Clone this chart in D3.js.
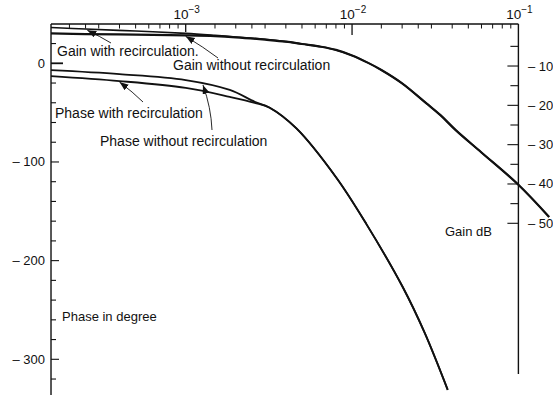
<!DOCTYPE html>
<html><head><meta charset="utf-8">
<script src="https://cdn.jsdelivr.net/npm/d3@7"></script>
<style>
html,body{margin:0;padding:0;background:#fff;overflow:hidden}
svg{display:block;font-family:"Liberation Sans",Arial,Helvetica,sans-serif}
</style></head><body>
<svg id="chart" width="553" height="395"></svg>
<script>
// Frequency response of the loop: gain (dB) and phase (degree),
// with and without recirculation.
const gainFreq    = [1.55e-4, 2.5e-4, 5e-4, 1e-3, 1.5e-3, 2e-3, 3e-3, 4e-3, 5e-3, 6.5e-3, 8e-3, 1e-2, 1.25e-2, 1.5e-2, 2e-2, 2.8e-2, 3.4e-2, 4.2e-2, 6e-2, 0.1, 0.153];
const gainWith    = [-0.2, -0.6, -1.1, -1.7, -2.2, -2.6, -3.2, -3.8, -4.4, -5.1, -5.9, -7.3, -9.2, -11, -14.4, -19.5, -22.5, -26.3, -32, -40.2, -48.4];
const gainWithout = [-1.7, -1.9, -2.0, -2.2, -2.4, -2.7, -3.3, -3.8, -4.4, -5.1, -5.9, -7.3, -9.2, -11, -14.4, -19.5, -22.5, -26.3, -32, -40.2, -48.4];

const phaseFreq    = [1.55e-4, 4e-4, 1e-3, 1.84e-3, 2.6e-3, 3.2e-3, 4.63e-3, 8.05e-3, 1.22e-2, 2.02e-2, 2.73e-2, 3.76e-2];
const phaseWithout = [-7, -11, -17, -27, -39, -45, -66, -116, -163, -227, -273, -331];
const phaseWith    = [-13, -18, -25, -34, -40, -45, -66, -116, -163, -227, -273, -331];

// axis ticks and labels
const decadeTicks   = [1e-3, 1e-2, 1e-1];
const decadeExp     = ["\u22123", "\u22122", "\u22121"];
const minorMantissa = [1.5, 2, 2.5, 3, 4, 5, 6, 7, 8, 9];
const phaseLabels   = [0, -100, -200, -300];
const gainLabels    = [-10, -20, -30, -40, -50];

const svg = d3.select("#chart");
const W = 553, H = 395;

const x = d3.scaleLog().domain([1e-3, 1e-1]).range([185.7, 518.4]);
const yPhase = d3.scaleLinear().domain([0, -300]).range([63.3, 359.3]);
const yGain  = d3.scaleLinear().domain([0, -50]).range([26.7, 223.3]);

const fMin = 1.55e-4, fMax = 1e-1;
const xL = x(fMin), xR = x(fMax), yTop = 24;
const ink = "#111";

// ---- top frequency axis (ticks point down into the plot)
const minorVals = [];
[1e-4, 1e-3, 1e-2].forEach(d => minorMantissa.forEach(m => {
  const v = d * m; if (v > fMin && v < fMax) minorVals.push(v);
}));
svg.append("line").attr("x1", xL).attr("x2", xR).attr("y1", yTop).attr("y2", yTop)
  .attr("stroke", ink).attr("stroke-width", 1.4);
svg.append("g").selectAll("line").data(minorVals).join("line")
  .attr("x1", d => x(d)).attr("x2", d => x(d)).attr("y1", yTop).attr("y2", yTop + 4.5)
  .attr("stroke", ink).attr("stroke-width", 1);
svg.append("g").selectAll("line").data(decadeTicks.slice(0, 2)).join("line")
  .attr("x1", d => x(d)).attr("x2", d => x(d)).attr("y1", yTop).attr("y2", (d, i) => yTop + (i === 0 ? 8 : 11))
  .attr("stroke", ink).attr("stroke-width", 1.3);
const decLab = svg.append("g").selectAll("text").data(decadeTicks).join("text")
  .attr("x", d => x(d) + 1).attr("y", 19)
  .attr("text-anchor", "middle").attr("font-size", 13.5).attr("fill", ink);
decLab.append("tspan").text("10");
decLab.append("tspan").attr("dy", -6.5).attr("font-size", 10).text((d, i) => decadeExp[i]);

// ---- left phase axis
const phaseTicks = d3.range(20, -340, -20);
svg.append("line").attr("x1", xL).attr("x2", xL).attr("y1", yTop).attr("y2", H)
  .attr("stroke", ink).attr("stroke-width", 1.4);
svg.append("g").selectAll("line").data(phaseTicks).join("line")
  .attr("x1", xL).attr("x2", d => xL + (d === 0 ? 12 : d % 100 === 0 ? 8 : 5))
  .attr("y1", d => yPhase(d)).attr("y2", d => yPhase(d))
  .attr("stroke", ink).attr("stroke-width", d => d === 0 ? 1.8 : 1.1);
svg.append("g").selectAll("text").data(phaseLabels).join("text")
  .attr("x", 45).attr("y", d => yPhase(d) + 4.5).attr("text-anchor", "end")
  .attr("font-size", 13).attr("fill", ink)
  .text(d => d === 0 ? "0" : "\u2013 " + Math.abs(d));

// ---- right gain axis
const gainTicks = d3.range(-5, -55, -5);
const gainAxisBottom = 374;
svg.append("line").attr("x1", xR).attr("x2", xR).attr("y1", yTop).attr("y2", gainAxisBottom)
  .attr("stroke", ink).attr("stroke-width", 1.4);
svg.append("g").selectAll("line").data(gainTicks).join("line")
  .attr("x1", xR).attr("x2", d => xR - (d % 10 === 0 ? 11 : 8))
  .attr("y1", d => yGain(d)).attr("y2", d => yGain(d))
  .attr("stroke", ink).attr("stroke-width", 1.1);
svg.append("g").selectAll("text").data(gainLabels).join("text")
  .attr("x", 528).attr("y", d => yGain(d) + 4.5)
  .attr("font-size", 13).attr("fill", ink)
  .text(d => "\u2013 " + Math.abs(d));

// ---- curves
const pts = (fs, vs) => fs.map((f, i) => ({f, v: vs[i]}));
const line = y => d3.line().x(d => x(d.f)).y(d => y(d.v)).curve(d3.curveCatmullRom.alpha(0.5));
const curves = [
  {data: pts(gainFreq, gainWithout), y: yGain, w: 2.2},
  {data: pts(gainFreq, gainWith), y: yGain, w: 1.6},
  {data: pts(phaseFreq, phaseWithout), y: yPhase, w: 1.8},
  {data: pts(phaseFreq, phaseWith), y: yPhase, w: 1.8}
];
svg.append("g").selectAll("path").data(curves).join("path")
  .attr("d", c => line(c.y)(c.data))
  .attr("fill", "none").attr("stroke", ink).attr("stroke-width", c => c.w)
  .attr("stroke-linejoin", "round");

// ---- labels with leader arrows
svg.append("defs").append("marker").attr("id", "head")
  .attr("markerUnits", "userSpaceOnUse").attr("markerWidth", 10).attr("markerHeight", 8)
  .attr("refX", 9).attr("refY", 3.5).attr("orient", "auto")
  .append("path").attr("d", "M0,0 L9,3.5 L0,7 Z").attr("fill", ink);

// value of a series at frequency f (log-linear interpolation)
function at(fs, vs, f) {
  const lf = Math.log10(f);
  for (let i = 1; i < fs.length; i++) {
    const a = Math.log10(fs[i - 1]), b = Math.log10(fs[i]);
    if (lf <= b) return vs[i - 1] + (vs[i] - vs[i - 1]) * (lf - a) / (b - a);
  }
  return vs[vs.length - 1];
}

const notes = [
  {text: "Gain with recirculation.", tx: 57, ty: 55.5, from: [111, 43], f: 2.56e-4, fs: gainFreq, vs: gainWith, y: yGain},
  {text: "Gain without recirculation", tx: 173, ty: 70, from: [218, 58], f: 1e-3, fs: gainFreq, vs: gainWithout, y: yGain},
  {text: "Phase with recirculation", tx: 55, ty: 118, from: [143, 102], f: 4e-4, fs: phaseFreq, vs: phaseWith, y: yPhase},
  {text: "Phase without recirculation", tx: 100, ty: 146, from: [212, 130], f: 1.27e-3, fs: phaseFreq, vs: phaseWithout, y: yPhase}
];
svg.append("g").selectAll("text").data(notes).join("text")
  .attr("x", d => d.tx).attr("y", d => d.ty).attr("font-size", 14).attr("fill", ink)
  .text(d => d.text);
svg.append("g").selectAll("path").data(notes).join("path")
  .attr("d", d => {
    const tx = x(d.f), ty = d.y(at(d.fs, d.vs, d.f)) + 1;
    const [sx, sy] = d.from;
    const cx = (sx + tx) / 2 + (sy - ty) * 0.08, cy = (sy + ty) / 2;
    return `M${sx},${sy} Q${cx},${cy} ${tx},${ty}`;
  })
  .attr("fill", "none").attr("stroke", ink).attr("stroke-width", 0.9)
  .attr("marker-end", "url(#head)");

svg.append("text").attr("x", 62).attr("y", 320.5).attr("font-size", 13).attr("fill", ink)
  .text("Phase in degree");
svg.append("text").attr("x", 445).attr("y", 236).attr("font-size", 13).attr("fill", ink)
  .text("Gain dB");
</script>
</body></html>
